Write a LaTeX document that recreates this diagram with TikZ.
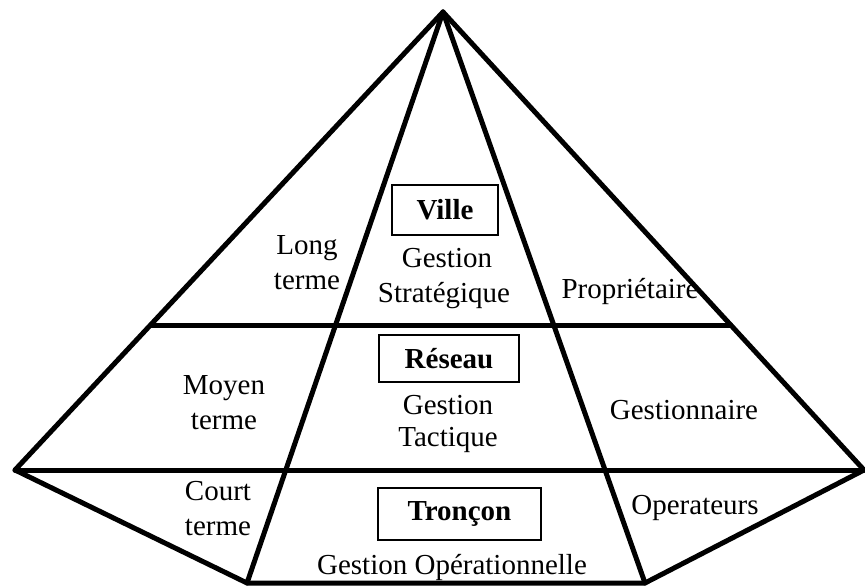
\documentclass[tikz,border=0pt]{standalone}
\usepackage{fontspec}
\setmainfont{Liberation Serif}
\begin{document}
\begin{tikzpicture}[x=0.5pt,y=-0.5pt,
  edge/.style={line width=2.5pt,line join=round,line cap=round},
  lbl/.style={inner sep=0pt,font=\fontsize{14.5pt}{17.5pt}\selectfont,align=center},
  tag/.style={draw,line width=0.9pt,inner sep=0pt,font=\fontsize{14.5pt}{17.5pt}\selectfont\bfseries}]
\useasboundingbox (0,0) rectangle (865,587);
% pyramid corners
\coordinate (apex) at (443,12);
\coordinate (L) at (15,470);
\coordinate (R) at (864,470);
\coordinate (BL) at (247,583);
\coordinate (BR) at (645,583);
\coordinate (ML) at (151,325);
\coordinate (MR) at (731,325);
% outline and levels
\draw[edge] (apex) -- (L) -- (BL) -- (BR) -- (R) -- cycle;
\draw[edge] (L) -- (R);
\draw[edge] (ML) -- (MR);
\draw[edge] (apex) -- (BL);
\draw[edge] (apex) -- (BR);
% top level
\node[tag,minimum width=53pt,minimum height=25pt] (ville) at (445,210) {Ville};
\node[lbl] (gs) at (447,258) {Gestion};
\node[lbl] (strat) at (444,296) {Stratégique};
\node[lbl] (long) at (307,263) {Long\\terme};
\node[lbl] (prop) at (630,292) {Propriétaire};
% middle level
\node[tag,minimum width=70pt,minimum height=23.5pt] (reseau) at (449,358.5) {Réseau};
\node[lbl] (gt) at (448,405) {Gestion};
\node[lbl] (tact) at (448,440) {Tactique};
\node[lbl] (moyen) at (224,403) {Moyen\\terme};
\node[lbl] (gest) at (684,410) {Gestionnaire};
% bottom level
\node[tag,minimum width=81.5pt,minimum height=26pt] (troncon) at (459.5,514) {Tronçon};
\node[lbl] (go) at (452,567) {Gestion Opérationnelle};
\node[lbl] (court) at (218,509) {Court\\terme};
\node[lbl] (oper) at (695,508) {Operateurs};
\end{tikzpicture}
\end{document}
